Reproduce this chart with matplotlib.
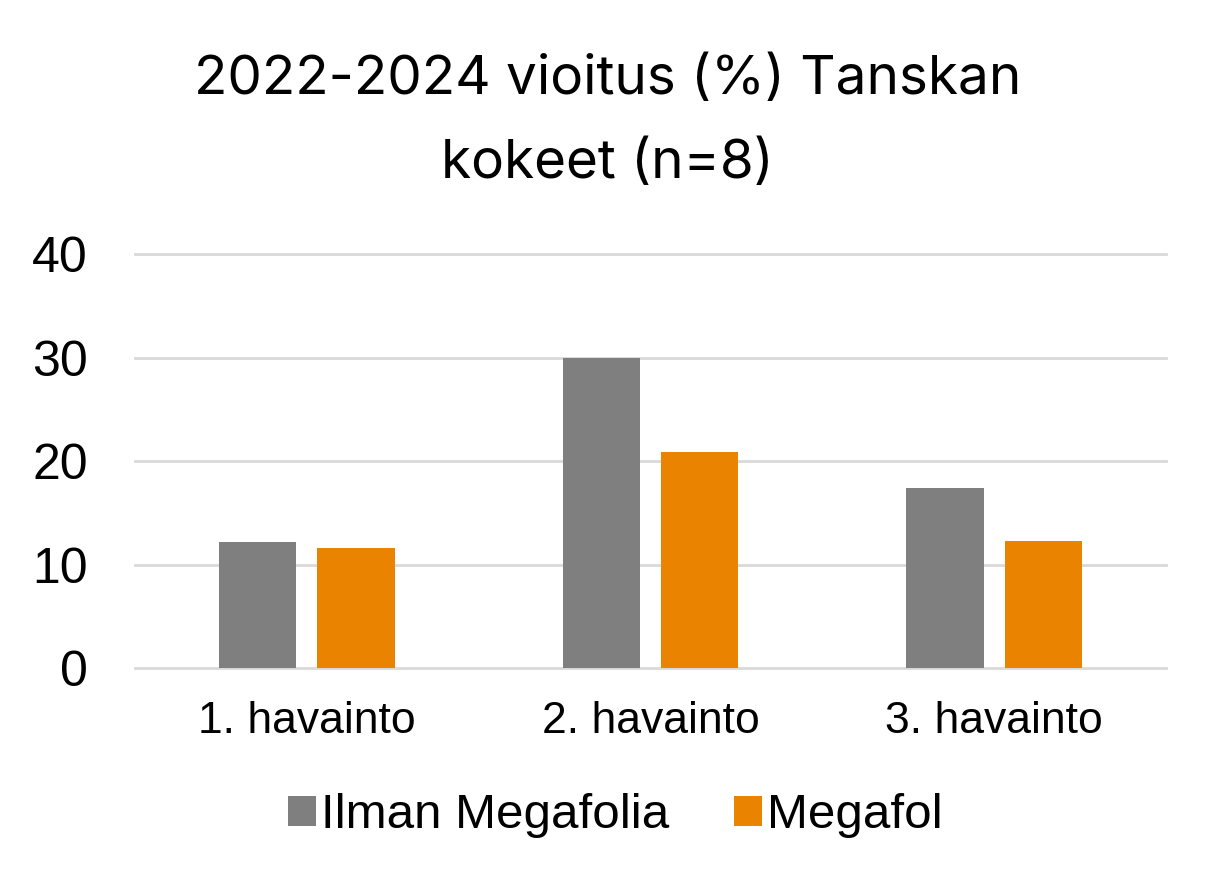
import matplotlib
matplotlib.use("Agg")
import matplotlib.pyplot as plt
import numpy as np

categories = ["1. havainto", "2. havainto", "3. havainto"]
series_names = ["Ilman Megafolia", "Megafol"]
ilman = [12.2, 30.0, 17.4]
megafol = [11.6, 20.9, 12.3]
yticks = [0, 10, 20, 30, 40]
title = "2022-2024 vioitus (%) Tanskan\nkokeet (n=8)"

colors = ["#7F7F7F", "#EA8400"]

fig = plt.figure(figsize=(12.16, 8.84), dpi=100)
ax = fig.add_axes([0.111, 0.2443, 0.848, 0.4683])

x = np.arange(len(categories))
w = 0.225
off = 0.143
ax.bar(x - off, ilman, width=w, color=colors[0], label=series_names[0], zorder=3)
ax.bar(x + off, megafol, width=w, color=colors[1], label=series_names[1], zorder=3)

ax.set_xlim(-0.5, 2.5)
ax.set_ylim(0, 40)
ax.set_yticks(yticks)
ax.set_yticklabels([str(t) for t in yticks], fontsize=36, family="Liberation Sans")
ax.set_xticks(x)
ax.set_xticklabels(categories, fontsize=32, family="Liberation Sans")
ax.tick_params(axis="both", length=0)
ax.tick_params(axis="y", pad=34)
ax.tick_params(axis="x", pad=24)
ax.yaxis.grid(True, color="#D9D9D9", linewidth=2, zorder=0)
ax.set_axisbelow(True)
for s in ax.spines.values():
    s.set_visible(False)
for gl in ax.get_ygridlines():
    gl.set_clip_on(False)

fig.text(0.4995, 0.862, title, ha="center", va="center", fontsize=39.5,
         family="Inter", linespacing=1.85)

leg = fig.legend(loc="center", bbox_to_anchor=(0.506, 0.077), ncol=2, frameon=False,
                 prop={"family": "Liberation Sans", "size": 35.5},
                 handlelength=0.58, handleheight=0.58, handletextpad=0.1,
                 columnspacing=1.3)

fig.savefig("out.png", dpi=100, facecolor="white")
